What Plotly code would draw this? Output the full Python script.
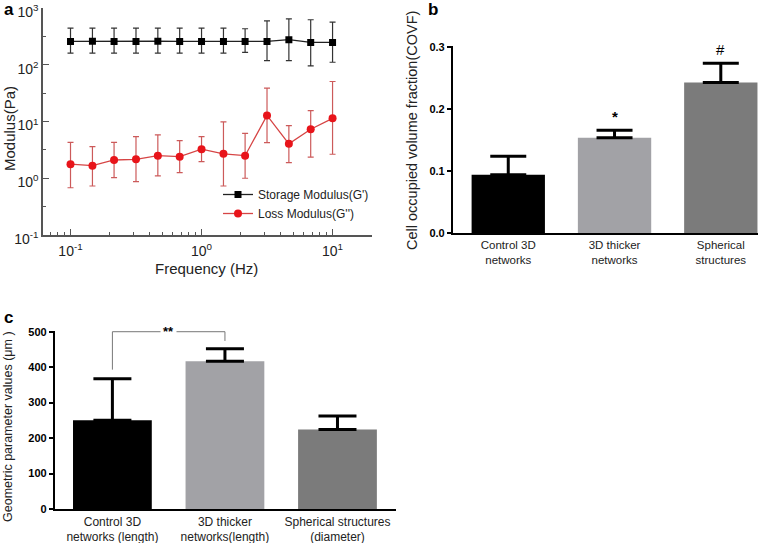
import plotly.graph_objects as go

W, H = 778, 543

# ---------------- data: panel a ----------------
freq = [0.1, 0.147, 0.215, 0.316, 0.464, 0.681, 1.0, 1.47, 2.15, 3.16, 4.64, 6.81, 10.0]
storage_mean = [258, 260, 258, 258, 260, 258, 258, 258, 258, 258, 277, 248, 248]
storage_upper = [444, 444, 444, 444, 444, 444, 444, 444, 432, 597, 646, 623, 567]
storage_lower = [161, 161, 161, 161, 161, 161, 161, 161, 165, 118, 118, 96, 111]
loss_mean = [1.77, 1.67, 2.1, 2.16, 2.5, 2.4, 3.25, 2.7, 2.5, 12.8, 4.04, 7.3, 11.4]
loss_upper = [4.3, 3.6, 4.3, 5.4, 5.8, 4.6, 5.4, 9.9, 6.2, 38.8, 8.5, 15.6, 50.8]
loss_lower = [0.68, 0.73, 1.03, 0.87, 1.1, 1.26, 1.97, 0.73, 1.0, 4.25, 1.89, 2.35, 2.65]

a_xtick_vals = [0.1, 1, 10]
a_xtick_text = ["10<sup>-1</sup>", "10<sup>0</sup>", "10<sup>1</sup>"]
a_ytick_vals = [0.1, 1, 10, 100, 1000]
a_ytick_text = ["10<sup>-1</sup>", "10<sup>0</sup>", "10<sup>1</sup>", "10<sup>2</sup>", "10<sup>3</sup>"]

# ---------------- data: panel b ----------------
covf_categories = ["Control 3D<br>networks", "3D thicker<br>networks", "Spherical<br>structures"]
covf_mean = [0.094, 0.154, 0.243]
covf_sd = [0.030, 0.012, 0.031]
covf_marks = ["", "<b>*</b>", "#"]
covf_ticks = [0.0, 0.1, 0.2, 0.3]

# ---------------- data: panel c ----------------
geo_categories = ["Control 3D<br>networks (length)", "3D thicker<br>networks(length)",
                  "Spherical structures<br>(diameter)"]
geo_mean = [250, 417, 224]
geo_sd = [117, 35, 38]
geo_ticks = [0, 100, 200, 300, 400, 500]

bar_colors = ["#000000", "#a2a2a6", "#7b7b7b"]

FONT = "Liberation Sans, Arial, sans-serif"


def px_x(p):
    return p / W


def px_y(p):
    return 1 - p / H


fig = go.Figure()

# ---------------- panel a ----------------
fig.add_trace(go.Scatter(
    x=freq, y=storage_mean, mode="lines+markers", name="Storage Modulus(G')",
    line=dict(color="#222222", width=1.3),
    marker=dict(symbol="square", size=7, color="#000000"),
    error_y=dict(type="data", symmetric=False,
                 array=[u - m for u, m in zip(storage_upper, storage_mean)],
                 arrayminus=[m - l for m, l in zip(storage_mean, storage_lower)],
                 color="#333333", thickness=1.2, width=3),
    xaxis="x", yaxis="y"))
fig.add_trace(go.Scatter(
    x=freq, y=loss_mean, mode="lines+markers", name="Loss Modulus(G'')",
    line=dict(color="#d64545", width=1.3),
    marker=dict(symbol="circle", size=8, color="#e8141a"),
    error_y=dict(type="data", symmetric=False,
                 array=[u - m for u, m in zip(loss_upper, loss_mean)],
                 arrayminus=[m - l for m, l in zip(loss_mean, loss_lower)],
                 color="#cc5a5a", thickness=1.2, width=3),
    xaxis="x", yaxis="y"))

# ---------------- panel b ----------------
fig.add_trace(go.Bar(
    x=covf_categories, y=covf_mean, marker=dict(color=bar_colors, line=dict(width=0)),
    width=0.69, showlegend=False,
    error_y=dict(type="data", symmetric=False, array=covf_sd, arrayminus=[0] * 3,
                 color="#000000", thickness=3, width=18),
    xaxis="x2", yaxis="y2"))

# ---------------- panel c ----------------
fig.add_trace(go.Bar(
    x=geo_categories, y=geo_mean, marker=dict(color=bar_colors, line=dict(width=0)),
    width=0.70, showlegend=False,
    error_y=dict(type="data", symmetric=False, array=geo_sd, arrayminus=[0] * 3,
                 color="#000000", thickness=3, width=19),
    xaxis="x3", yaxis="y3"))

annotations = []
shapes = []

# significance marks panel b
for cat, m, s, mark in zip(covf_categories, covf_mean, covf_sd, covf_marks):
    if mark:
        annotations.append(dict(x=cat, y=m + s, xref="x2", yref="y2", text=mark,
                                showarrow=False, xanchor="center", yanchor="bottom", yshift=3,
                                font=dict(size=15, family=FONT, color="#000")))

# bracket panel c
br_top = 500
br_left_bottom = geo_mean[0] + geo_sd[0] + 26
br_right_bottom = geo_mean[1] + geo_sd[1] + 22
shapes.append(dict(type="line", xref="x3", yref="y3", x0=0, x1=0,
                   y0=br_left_bottom, y1=br_top, line=dict(color="#777", width=1)))
shapes.append(dict(type="line", xref="x3", yref="y3", x0=0, x1=1,
                   y0=br_top, y1=br_top, line=dict(color="#777", width=1)))
shapes.append(dict(type="line", xref="x3", yref="y3", x0=1, x1=1,
                   y0=br_right_bottom, y1=br_top, line=dict(color="#777", width=1)))
annotations.append(dict(x=0.5, y=br_top, xref="x3", yref="y3", text="<b>**</b>",
                        showarrow=False, bgcolor="white", borderpad=2,
                        xanchor="center", yanchor="middle",
                        font=dict(size=13, family=FONT, color="#000")))

# panel letters
for letter, xp, yp in [("a", 2, 10), ("b", 426, 10), ("c", 2, 317)]:
    annotations.append(dict(x=px_x(xp), y=px_y(yp), xref="paper", yref="paper",
                            text="<b>%s</b>" % letter, showarrow=False,
                            xanchor="left", yanchor="middle",
                            font=dict(size=17, family=FONT, color="#000")))

# axis titles
title_common = dict(xref="paper", yref="paper", showarrow=False,
                    xanchor="center", yanchor="middle")
annotations += [
    dict(x=px_x(10), y=px_y(129), text="Modulus(Pa)", textangle=-90,
         font=dict(size=15, family=FONT, color="#222"), **title_common),
    dict(x=px_x(206), y=px_y(268), text="Frequency (Hz)",
         font=dict(size=15, family=FONT, color="#222"), **title_common),
    dict(x=px_x(412), y=px_y(131), text="Cell occupied volume fraction(COVF)", textangle=-90,
         font=dict(size=14.5, family=FONT, color="#222"), **title_common),
    dict(x=px_x(8), y=px_y(427), text="Geometric parameter values (μm )", textangle=-90,
         font=dict(size=12.5, family=FONT, color="#222"), **title_common),
]

AXA = "#555555"
fig.update_layout(
    width=W, height=H, margin=dict(l=0, r=0, t=0, b=0, autoexpand=False),
    paper_bgcolor="white", plot_bgcolor="white",
    font=dict(family=FONT, color="#222"),
    showlegend=True,
    legend=dict(x=px_x(218), y=px_y(180), xanchor="left", yanchor="top",
                bgcolor="rgba(0,0,0,0)", font=dict(size=12, family=FONT, color="#222"),
                tracegroupgap=0, itemwidth=30),
    xaxis=dict(domain=[px_x(43), px_x(372)], type="log", range=[-1.21, 1.301],
               anchor="y", showline=True, linecolor=AXA, linewidth=1.5, mirror=False,
               showgrid=False, zeroline=False, ticks="inside", ticklen=6, tickwidth=1.2,
               tickcolor=AXA, tickmode="array", tickvals=a_xtick_vals, ticktext=a_xtick_text,
               tickfont=dict(size=14, family=FONT, color="#222"), automargin=False,
               ticklabelstandoff=2, ticklabeloverflow="allow",
               minor=dict(ticks="inside", ticklen=3, tickwidth=1, tickcolor=AXA,
                          tickvals=[0.06, 0.07, 0.08, 0.09, 0.2, 0.3, 0.4, 0.5, 0.6, 0.7, 0.8, 0.9,
                                    2, 3, 4, 5, 6, 7, 8, 9, 20])),
    yaxis=dict(domain=[px_y(235), px_y(7.5)], type="log", range=[-1, 3.01],
               anchor="x", showline=True, linecolor=AXA, linewidth=1.5,
               showgrid=False, zeroline=False, ticks="inside", ticklen=6, tickwidth=1.2,
               tickcolor=AXA, tickmode="array", tickvals=a_ytick_vals, ticktext=a_ytick_text,
               tickfont=dict(size=14, family=FONT, color="#222"), automargin=False,
               ticklabeloverflow="allow", ticklabelshift=4,
               minor=dict(ticks="inside", ticklen=3, tickwidth=1, tickcolor=AXA,
                          tickvals=[10 ** -0.5, 10 ** 0.5, 10 ** 1.5, 10 ** 2.5])),
    xaxis2=dict(domain=[px_x(453), px_x(758)], type="category", range=[-0.52, 2.35],
                anchor="y2", showline=True, linecolor="#000", linewidth=2.2,
                showgrid=False, zeroline=False, ticks="", automargin=False,
                tickfont=dict(size=11.5, family=FONT, color="#222")),
    yaxis2=dict(domain=[px_y(233), px_y(46)], range=[0, 0.302], anchor="x2",
                showline=True, linecolor="#000", linewidth=2.2,
                showgrid=False, zeroline=False, ticks="outside", ticklen=4, tickwidth=2,
                tickcolor="#000", tickmode="array", tickvals=covf_ticks, automargin=False,
                ticktext=["<b>%.1f</b>" % v for v in covf_ticks],
                tickfont=dict(size=11, family=FONT, color="#000")),
    xaxis3=dict(domain=[px_x(55), px_x(396)], type="category", range=[-0.51, 2.52],
                anchor="y3", showline=True, linecolor="#000", linewidth=2.2,
                showgrid=False, zeroline=False, ticks="", automargin=False,
                tickfont=dict(size=12, family=FONT, color="#222")),
    yaxis3=dict(domain=[px_y(509), px_y(331)], range=[0, 502], anchor="x3",
                showline=True, linecolor="#000", linewidth=2.2,
                showgrid=False, zeroline=False, ticks="outside", ticklen=4, tickwidth=2,
                tickcolor="#000", tickmode="array", tickvals=geo_ticks, automargin=False,
                ticktext=["<b>%d</b>" % v for v in geo_ticks],
                tickfont=dict(size=11, family=FONT, color="#000")),
    annotations=annotations,
    shapes=shapes,
)

fig.write_html("out.html", config={"displayModeBar": False},
               post_script="document.body.style.margin='0';document.body.style.overflow='hidden';")
